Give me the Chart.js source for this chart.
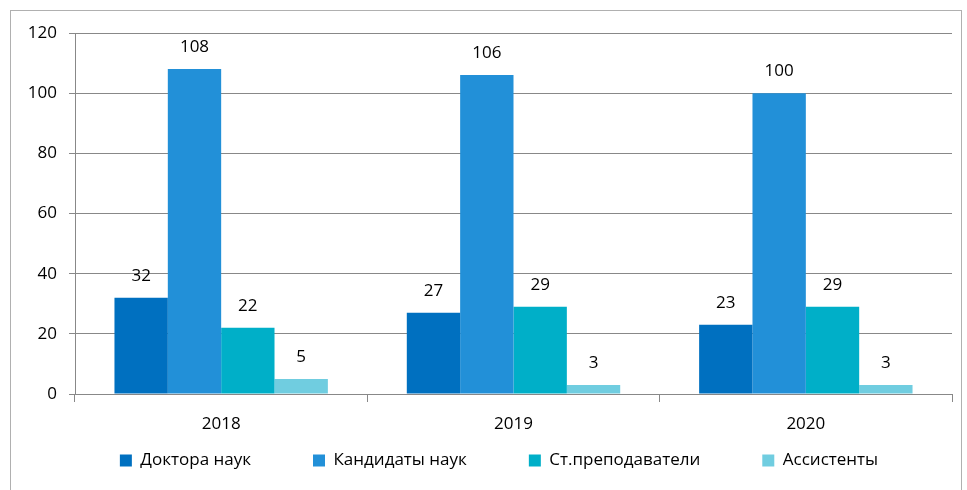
<!DOCTYPE html>
<html>
<head>
<meta charset="utf-8">
<script src="https://cdn.jsdelivr.net/npm/chart.js@4.4.0/dist/chart.umd.min.js"></script>
<style>
  html, body { margin: 0; padding: 0; background: #fff; }
  #frame { position: absolute; left: 10px; top: 10px; width: 950px; height: 500px; border: 1px solid #b0b0b0; }
  #wrap { position: absolute; left: 0; top: 0; width: 967px; height: 490px; }
</style>
</head>
<body>
<div id="frame"></div>
<div id="wrap"><canvas id="chartContainer"></canvas></div>
<script>
// Data
const years = ['2018', '2019', '2020'];
const doctors = [32, 27, 23];
const candidates = [108, 106, 100];
const seniorLecturers = [22, 29, 29];
const assistants = [5, 3, 3];
const yTicks = [0, 20, 40, 60, 80, 100, 120];

const fontFamily = "'Open Sans', sans-serif";
const legendGap = 62;

// draw the numbers above bars
const valueLabels = {
    id: 'valueLabels',
    afterDatasetsDraw(chart) {
        const ctx = chart.ctx;
        ctx.save();
        ctx.font = '17px ' + fontFamily;
        ctx.fillStyle = '#000';
        ctx.textAlign = 'center';
        ctx.textBaseline = 'middle';
        chart.data.datasets.forEach((ds, i) => {
            chart.getDatasetMeta(i).data.forEach((bar, j) => {
                ctx.fillText(ds.data[j], bar.x, bar.y - 22);
            });
        });
        ctx.restore();
    }
};

// wide horizontal spacing in the legend without the tall row it brings
const legendHeight = {
    id: 'legendHeight',
    beforeLayout(chart) {
        const legend = chart.legend;
        if (!legend || legend._patched) return;
        legend._patched = true;
        const fit = legend.fit;
        const draw = legend.draw;
        legend.fit = function () {
            fit.call(this);
            this.height = 40;
        };
        legend.draw = function () {
            const top = this.top, bottom = this.bottom, left = this.left, right = this.right;
            this.top = top - (legendGap - 16);
            this.bottom = bottom + 20;
            this.left = left + 18;
            this.right = right + 18;
            draw.call(this);
            this.top = top;
            this.bottom = bottom;
            this.left = left;
            this.right = right;
        };
    }
};

let chart;
renderChart();

function renderChart() {
    const ctx = document.getElementById('chartContainer').getContext('2d');
    if (chart) chart.destroy();

    chart = new Chart(ctx, {
        type: 'bar',
        data: {
            labels: years,
            datasets: [
                { label: 'Доктора наук', data: doctors, backgroundColor: '#0070C0' },
                { label: 'Кандидаты наук', data: candidates, backgroundColor: '#2290D8' },
                { label: 'Ст.преподаватели', data: seniorLecturers, backgroundColor: '#00AFC8' },
                { label: 'Ассистенты', data: assistants, backgroundColor: '#70CDE0' }
            ]
        },
        options: {
            responsive: true,
            maintainAspectRatio: false,
            animation: false,
            datasets: {
                bar: { categoryPercentage: 0.73, barPercentage: 1.0 }
            },
            layout: { padding: { top: 33, right: 15, left: 10, bottom: 14 } },
            plugins: {
                tooltip: { enabled: false },
                legend: {
                    position: 'bottom',
                    labels: {
                        boxWidth: 12,
                        boxHeight: 12,
                        padding: legendGap,
                        color: '#000',
                        font: { size: 17, family: fontFamily }
                    }
                }
            },
            scales: {
                x: {
                    grid: { display: true, drawOnChartArea: false, offset: true, tickLength: 8, color: '#888' },
                    border: { color: '#888' },
                    ticks: { color: '#000', padding: 12, font: { size: 17, family: fontFamily } },
                    afterFit(scale) { scale.height = 42; }
                },
                y: {
                    min: 0,
                    max: 120,
                    afterBuildTicks(scale) { scale.ticks = yTicks.map(v => ({ value: v })); },
                    grid: { color: '#888', tickLength: 6 },
                    border: { color: '#888' },
                    ticks: { color: '#000', padding: 12, font: { size: 17, family: fontFamily } },
                    afterFit(scale) { scale.width = 65; }
                }
            }
        },
        plugins: [valueLabels, legendHeight]
    });
}
</script>
</body>
</html>
